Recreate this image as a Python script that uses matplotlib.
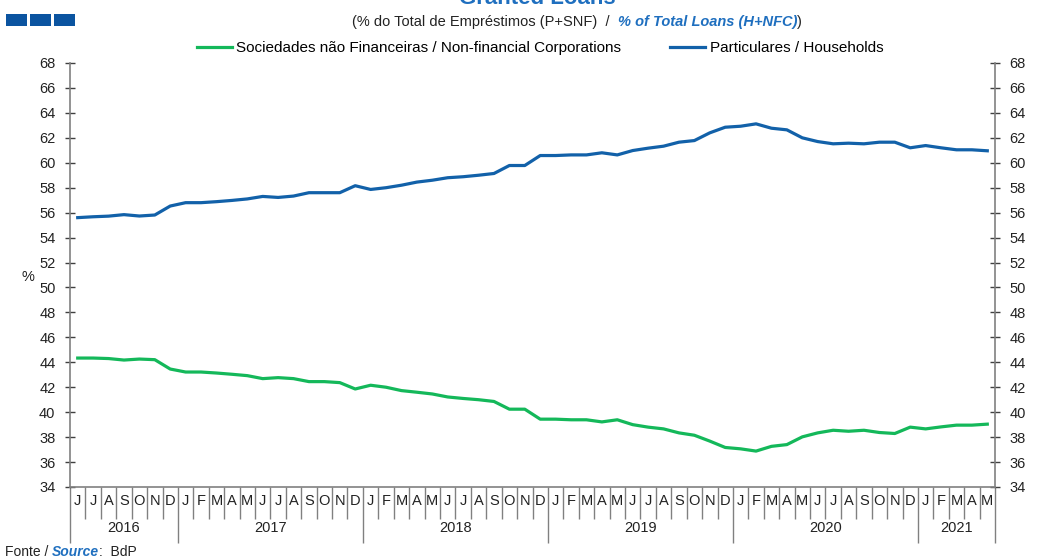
import matplotlib
matplotlib.use("Agg")
import matplotlib.pyplot as plt
import matplotlib.transforms as mtransforms
from matplotlib.patches import Rectangle
import numpy as np

plt.rcParams['font.family'] = ['Liberation Sans', 'DejaVu Sans']

years = ['2016', '2017', '2018', '2019', '2020', '2021']
months_per_year = [7, 12, 12, 12, 12, 5]
month_letters = (['J', 'J', 'A', 'S', 'O', 'N', 'D']
                 + ['J', 'F', 'M', 'A', 'M', 'J', 'J', 'A', 'S', 'O', 'N', 'D'] * 4
                 + ['J', 'F', 'M', 'A', 'M'])

households = [55.60, 55.67, 55.72, 55.84, 55.73, 55.81, 56.53, 56.80, 56.80, 56.88,
              56.98, 57.10, 57.30, 57.22, 57.33, 57.60, 57.60, 57.60, 58.16, 57.86,
              58.00, 58.20, 58.45, 58.60, 58.80, 58.88, 59.00, 59.14, 59.78, 59.78,
              60.58, 60.58, 60.63, 60.63, 60.80, 60.63, 60.98, 61.17, 61.33, 61.65,
              61.78, 62.40, 62.85, 62.93, 63.12, 62.77, 62.64, 62.00, 61.70, 61.52,
              61.57, 61.52, 61.65, 61.65, 61.20, 61.38, 61.20, 61.04, 61.04, 60.96]

nfc = [44.34, 44.34, 44.30, 44.18, 44.26, 44.21, 43.46, 43.22, 43.22, 43.14,
       43.04, 42.93, 42.69, 42.77, 42.69, 42.45, 42.45, 42.37, 41.86, 42.16,
       42.00, 41.73, 41.60, 41.46, 41.22, 41.10, 41.00, 40.86, 40.24, 40.24,
       39.44, 39.44, 39.39, 39.39, 39.22, 39.39, 39.00, 38.80, 38.66, 38.34,
       38.15, 37.68, 37.17, 37.06, 36.88, 37.26, 37.40, 38.02, 38.34, 38.55,
       38.47, 38.55, 38.37, 38.29, 38.80, 38.66, 38.82, 38.96, 38.96, 39.04]

label_nfc = 'Sociedades não Financeiras / Non-financial Corporations'
label_hh = 'Particulares / Households'

BLUE = '#1261A9'
GREEN = '#14B85A'
GRAY = '#808080'
TITLE_BLUE = '#1F6FBF'

W, H = 1043, 558
fig = plt.figure(figsize=(W / 100, H / 100), dpi=100)
ax = fig.add_axes([70 / W, 1 - 487 / H, (995 - 70) / W, (487 - 63) / H])

x = np.arange(len(households))
ax.plot(x, nfc, color=GREEN, lw=2.3, label=label_nfc, solid_joinstyle='round')
ax.plot(x, households, color=BLUE, lw=2.3, label=label_hh, solid_joinstyle='round')

ax.set_xlim(-0.5, len(households) - 0.5)
ax.set_ylim(34, 68)
yt = np.arange(34, 69, 2)

ax.spines['top'].set_visible(False)
for s in ['left', 'right', 'bottom']:
    ax.spines[s].set_color(GRAY)
    ax.spines[s].set_linewidth(1.2)

ax.set_yticks(yt)
ax.tick_params(axis='y', which='both', direction='inout', length=7, width=1,
               color='#404040', labelsize=10.5, pad=7, left=True, right=True,
               labelleft=True, labelright=True)
for lab in ax.get_yticklabels():
    lab.set_color('#222222')

# x-axis separators: month boundaries (minor) and year boundaries (major)
bounds_year = np.concatenate([[0], np.cumsum(months_per_year)]) - 0.5
ax.set_xticks(bounds_year)
ax.set_xticks(np.arange(len(households) + 1) - 0.5, minor=True)
ax.tick_params(axis='x', which='major', direction='out', length=40, width=1,
               color=GRAY, labelbottom=False)
ax.tick_params(axis='x', which='minor', direction='out', length=23, width=1,
               color=GRAY, labelbottom=False)

trans = mtransforms.blended_transform_factory(ax.transData, ax.transAxes)
for i, m in enumerate(month_letters):
    ax.text(i, -14 / 424, m, transform=trans, ha='center', va='center',
            fontsize=10.5, color='#222222')
for k, yr in enumerate(years):
    c = (bounds_year[k] + bounds_year[k + 1]) / 2
    ax.text(c, -41 / 424, yr, transform=trans, ha='center', va='center',
            fontsize=10.5, color='#222222')

fig.text(28 / W, 1 - 277 / H, '%', ha='center', va='center', fontsize=10.5, color='#222222')

# legend
fig.legend(loc='center', bbox_to_anchor=(540 / W, 1 - 48 / H), ncol=2, frameon=False,
           fontsize=11, handlelength=2.3, handletextpad=0.3, columnspacing=3.2)

# title (partially cut off at top, as in the reference)
fig.text(537 / W, 1 - 4 / H, 'Granted Loans', ha='center', va='baseline',
         fontsize=16, fontweight='bold', color=TITLE_BLUE)

# subtitle pieces
t1 = fig.text(352 / W, 1 - 22 / H, '(% do Total de Empréstimos (P+SNF)  /  ', ha='left',
              va='center', fontsize=10.5, color='#222222')
t2 = fig.text(0, 0, '% of Total Loans (H+NFC)', fontsize=10.5, color=TITLE_BLUE,
              fontweight='bold', fontstyle='italic')
t3 = fig.text(0, 0, ')', fontsize=10.5, color='#222222')
fig.canvas.draw()
r = fig.canvas.get_renderer()
bb1 = t1.get_window_extent(r)
t2.set_position((bb1.x1 / W, bb1.y0 / H))
t2.set_va('bottom')
fig.canvas.draw()
bb2 = t2.get_window_extent(r)
t3.set_position((bb2.x1 / W, bb1.y0 / H))
t3.set_va('bottom')

# source line
s1 = fig.text(5 / W, 1 - 552 / H, 'Fonte / ', ha='left', va='center', fontsize=10, color='#222222')
s2 = fig.text(0, 0, 'Source', fontsize=10, color=TITLE_BLUE, fontweight='bold', fontstyle='italic')
s3 = fig.text(0, 0, ':  BdP', fontsize=10, color='#222222')
fig.canvas.draw()
b1 = s1.get_window_extent(r)
s2.set_position((b1.x1 / W, b1.y0 / H)); s2.set_va('bottom')
fig.canvas.draw()
b2 = s2.get_window_extent(r)
s3.set_position((b2.x1 / W, b1.y0 / H)); s3.set_va('bottom')

# decorative blue squares
for x0 in [6, 30, 54]:
    fig.patches.append(Rectangle((x0 / W, 1 - 26 / H), 20.5 / W, 12 / H,
                                 transform=fig.transFigure, color='#0B54A0', lw=0))

fig.savefig('out.png', dpi=100)
